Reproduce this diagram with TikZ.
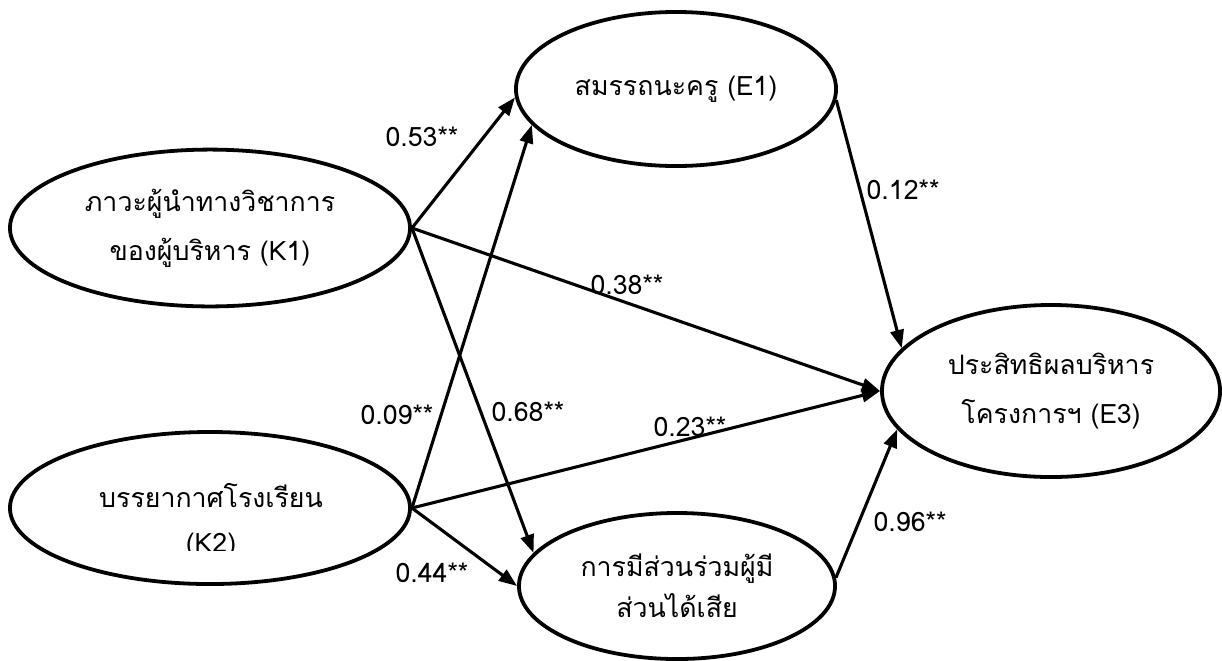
\documentclass[tikz,border=0pt]{standalone}
\usepackage{fontspec}
\newfontfamily\thaifont[Script=Thai]{Loma}
\usetikzlibrary{arrows.meta,shapes.geometric}
\begin{document}
\begin{tikzpicture}[x=0.025cm,y=-0.025cm,
  latent/.style={draw,ellipse,line width=2.7pt,inner sep=0pt,align=center,
    font=\thaifont\fontsize{19}{35}\selectfont},
  ttext/.style={font=\thaifont\fontsize{19}{35}\selectfont,inner sep=0pt},
  link/.style={line width=2.2pt,-{Triangle[length=13pt,width=9.5pt]}},
  coef/.style={font=\thaifont\fontsize{19}{22}\selectfont,inner sep=1pt}]
\useasboundingbox (0,0) rectangle (1222,660);
\node[latent,minimum width=10cm,minimum height=3.92cm] (k1) at (210,228) {ภาวะผู้นำทางวิชาการ\\ของผู้บริหาร (K1)};
\node[latent,minimum width=10cm,minimum height=3.8cm] (k2) at (210,508) {};
\node[ttext] (k2a) at (211,496) {บรรยากาศโรงเรียน};
\begin{scope}
\clip (100,530) rectangle (320,550);
\node[ttext] (k2b) at (211,546) {(K2)};
\end{scope}
\node[latent,minimum width=8cm,minimum height=3.85cm] (e1) at (676,89) {สมรรถนะครู (E1)};
\node[latent,minimum width=7.9cm,minimum height=3.65cm,font=\thaifont\fontsize{19}{29}\selectfont] (e2) at (677,586) {การมีส่วนร่วมผู้มี\\ส่วนได้เสีย};
\node[latent,minimum width=8.45cm,minimum height=4.3cm] (e3) at (1051,391) {ประสิทธิผลบริหาร\\โครงการฯ (E3)};
\draw[link] (k1.east) -- (e1.183);
\draw[link] (k1.east) -- (e3.west);
\draw[link] (k1.east) -- (e2.167);
\draw[link] (k2.east) -- (e1.194);
\draw[link] (k2.east) -- (e3.west);
\draw[link] (k2.east) -- (e2.west);
\draw[link] (e1.-4) -- (e3.164);
\draw[link] (e2.3) -- (e3.194);
\node[coef] (c53) at (422,137) {0.53**};
\node[coef] (c38) at (627,285) {0.38**};
\node[coef] (c09) at (397,415) {0.09**};
\node[coef] (c68) at (528,412) {0.68**};
\node[coef] (c23) at (690,427) {0.23**};
\node[coef] (c44) at (432,573) {0.44**};
\node[coef] (c12) at (903,190) {0.12**};
\node[coef] (c96) at (910,522) {0.96**};
\end{tikzpicture}
\end{document}
